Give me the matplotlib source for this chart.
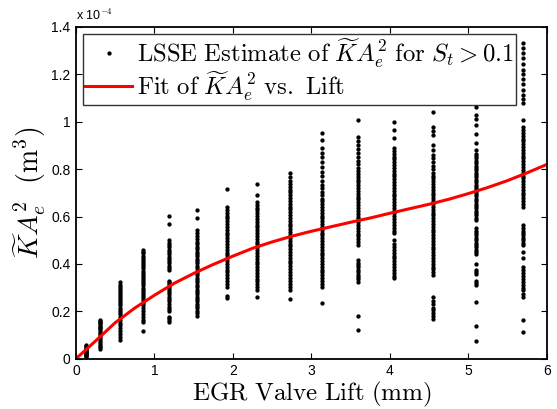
import matplotlib
matplotlib.use("Agg")
import matplotlib.pyplot as plt

plt.rcParams['mathtext.fontset'] = 'cm'
plt.rcParams['font.family'] = ['Liberation Sans', 'DejaVu Sans']

# valve lift settings (mm) where the LSSE estimates were taken
lift_levels = [0.13, 0.31, 0.565, 0.86, 1.19, 1.545, 1.93, 2.31,
               2.73, 3.14, 3.59, 4.05, 4.55, 5.09, 5.69]

# LSSE estimates of K*Ae^2, in units of 1e-4 m^3, one list per lift level
est_0 = [0.008, 0.012, 0.015, 0.018, 0.021, 0.024, 0.027, 0.030, 0.034,
         0.038, 0.042, 0.046, 0.050, 0.055, 0.058]
est_1 = [0.041, 0.048, 0.055, 0.062, 0.072, 0.080, 0.088, 0.095, 0.103,
         0.110, 0.118, 0.124, 0.130, 0.135, 0.140, 0.145, 0.150, 0.155,
         0.160, 0.165]
est_2 = [0.079, 0.092, 0.105, 0.118, 0.130, 0.142, 0.152, 0.163, 0.175,
         0.188, 0.198, 0.207, 0.216, 0.226, 0.236, 0.245, 0.254, 0.262,
         0.270, 0.278, 0.286, 0.294, 0.302, 0.310, 0.325]
est_3 = [0.117, 0.155, 0.165, 0.176, 0.187, 0.200, 0.213, 0.225, 0.236,
         0.246, 0.256, 0.265, 0.274, 0.283, 0.292, 0.300, 0.309, 0.318,
         0.327, 0.336, 0.345, 0.354, 0.363, 0.372, 0.381, 0.390, 0.399,
         0.408, 0.417, 0.426, 0.435, 0.444, 0.452, 0.460]
est_4 = [0.156, 0.163, 0.170, 0.177, 0.200, 0.210, 0.220, 0.232, 0.243,
         0.252, 0.262, 0.271, 0.280, 0.290, 0.298, 0.306, 0.314, 0.322,
         0.330, 0.375, 0.384, 0.393, 0.402, 0.411, 0.420, 0.430, 0.440,
         0.450, 0.460, 0.470, 0.480, 0.490, 0.500, 0.568, 0.602]
est_5 = [0.180, 0.192, 0.202, 0.212, 0.222, 0.232, 0.242, 0.252, 0.262,
         0.272, 0.282, 0.292, 0.302, 0.312, 0.322, 0.332, 0.342, 0.352,
         0.362, 0.372, 0.382, 0.392, 0.402, 0.412, 0.422, 0.432, 0.442,
         0.452, 0.462, 0.472, 0.482, 0.492, 0.505, 0.518, 0.530, 0.543,
         0.595, 0.627]
est_6 = [0.258, 0.264, 0.304, 0.316, 0.328, 0.340, 0.352, 0.364, 0.376,
         0.388, 0.400, 0.412, 0.424, 0.436, 0.448, 0.460, 0.472, 0.484,
         0.496, 0.508, 0.520, 0.532, 0.544, 0.556, 0.568, 0.580, 0.592,
         0.604, 0.616, 0.628, 0.641, 0.715]
est_7 = [0.262, 0.290, 0.302, 0.314, 0.326, 0.338, 0.350, 0.362, 0.374,
         0.386, 0.398, 0.410, 0.422, 0.434, 0.446, 0.458, 0.470, 0.482,
         0.494, 0.506, 0.518, 0.530, 0.542, 0.554, 0.566, 0.578, 0.590,
         0.602, 0.614, 0.626, 0.638, 0.650, 0.662, 0.690, 0.736]
est_8 = [0.252, 0.290, 0.302, 0.314, 0.330, 0.342, 0.354, 0.366, 0.378,
         0.390, 0.402, 0.414, 0.426, 0.438, 0.450, 0.462, 0.474, 0.486,
         0.498, 0.510, 0.522, 0.534, 0.546, 0.558, 0.570, 0.582, 0.594,
         0.606, 0.618, 0.630, 0.642, 0.654, 0.666, 0.678, 0.690, 0.702,
         0.714, 0.726, 0.738, 0.750, 0.765, 0.785]
est_9 = [0.234, 0.304, 0.316, 0.328, 0.340, 0.352, 0.364, 0.376, 0.388,
         0.400, 0.412, 0.424, 0.436, 0.448, 0.460, 0.472, 0.484, 0.496,
         0.508, 0.520, 0.532, 0.544, 0.556, 0.568, 0.580, 0.592, 0.604,
         0.616, 0.628, 0.640, 0.652, 0.664, 0.676, 0.690, 0.705, 0.720,
         0.735, 0.750, 0.770, 0.790, 0.810, 0.830, 0.850, 0.870, 0.888,
         0.923, 0.951]
est_10 = [0.121, 0.181, 0.325, 0.335, 0.345, 0.355, 0.365, 0.375, 0.385,
          0.395, 0.405, 0.416, 0.480, 0.492, 0.504, 0.516, 0.528, 0.540,
          0.552, 0.564, 0.576, 0.588, 0.600, 0.612, 0.624, 0.636, 0.648,
          0.660, 0.672, 0.684, 0.696, 0.708, 0.720, 0.732, 0.744, 0.756,
          0.768, 0.780, 0.792, 0.806, 0.820, 0.836, 0.852, 0.868, 0.884,
          0.900, 0.918, 0.937, 1.007]
est_11 = [0.339, 0.351, 0.363, 0.375, 0.387, 0.399, 0.411, 0.423, 0.435,
          0.447, 0.459, 0.471, 0.483, 0.500, 0.529, 0.541, 0.553, 0.565,
          0.577, 0.589, 0.601, 0.613, 0.625, 0.637, 0.649, 0.661, 0.673,
          0.685, 0.697, 0.709, 0.721, 0.733, 0.745, 0.757, 0.769, 0.781,
          0.793, 0.805, 0.817, 0.829, 0.841, 0.853, 0.865, 0.877, 0.888,
          0.930, 0.965, 0.997]
est_12 = [0.168, 0.180, 0.192, 0.204, 0.216, 0.230, 0.245, 0.262, 0.353,
          0.365, 0.377, 0.389, 0.401, 0.413, 0.425, 0.437, 0.449, 0.461,
          0.473, 0.485, 0.497, 0.509, 0.521, 0.533, 0.545, 0.557, 0.569,
          0.581, 0.593, 0.605, 0.617, 0.629, 0.641, 0.653, 0.665, 0.677,
          0.689, 0.701, 0.713, 0.725, 0.737, 0.749, 0.761, 0.773, 0.785,
          0.800, 0.815, 0.830, 0.845, 0.860, 0.880, 0.900, 0.944, 0.960,
          0.979, 1.042]
est_13 = [0.075, 0.139, 0.240, 0.312, 0.320, 0.330, 0.356, 0.366, 0.376,
          0.400, 0.440, 0.450, 0.460, 0.470, 0.480, 0.490, 0.500, 0.510,
          0.520, 0.530, 0.540, 0.550, 0.585, 0.595, 0.605, 0.615, 0.625,
          0.635, 0.645, 0.655, 0.665, 0.675, 0.685, 0.695, 0.705, 0.715,
          0.725, 0.735, 0.745, 0.755, 0.765, 0.775, 0.785, 0.795, 0.805,
          0.815, 0.825, 0.835, 0.845, 0.855, 0.865, 0.880, 0.910, 0.950,
          0.985, 1.010, 1.030, 1.061]
est_14 = [0.114, 0.163, 0.262, 0.275, 0.288, 0.300, 0.312, 0.325, 0.338,
          0.350, 0.362, 0.375, 0.388, 0.425, 0.450, 0.480, 0.490, 0.500,
          0.510, 0.520, 0.530, 0.540, 0.550, 0.564, 0.641, 0.653, 0.665,
          0.677, 0.689, 0.701, 0.713, 0.725, 0.737, 0.749, 0.761, 0.773,
          0.785, 0.797, 0.809, 0.821, 0.833, 0.845, 0.857, 0.869, 0.881,
          0.893, 0.905, 0.917, 0.929, 0.941, 0.953, 0.965, 0.979, 1.007,
          1.078, 1.095, 1.115, 1.135, 1.160, 1.180, 1.200, 1.220, 1.245,
          1.270, 1.290, 1.310, 1.331]
estimates = [est_0, est_1, est_2, est_3, est_4, est_5, est_6, est_7,
             est_8, est_9, est_10, est_11, est_12, est_13, est_14]

# fitted K*Ae^2 vs. lift curve (1e-4 m^3)
fit_lift = [0.0, 0.25, 0.5, 0.75, 1.0, 1.25, 1.5, 1.75, 2.0, 2.25, 2.5,
            2.75, 3.0, 3.25, 3.5, 3.75, 4.0, 4.25, 4.5, 4.75, 5.0, 5.25,
            5.5, 5.75, 6.0]
fit_ka2 = [0.0, 0.075, 0.152, 0.214, 0.268, 0.318, 0.360, 0.398, 0.433,
           0.466, 0.493, 0.517, 0.538, 0.557, 0.576, 0.594, 0.614, 0.633,
           0.652, 0.673, 0.697, 0.723, 0.752, 0.785, 0.820]

fig = plt.figure(figsize=(5.57, 4.09), dpi=100)
ax = fig.add_axes([0.1364, 0.123, 0.8456, 0.811])

first = True
for lift, vals in zip(lift_levels, estimates):
    ax.plot([lift] * len(vals), vals, linestyle='none', marker='o',
            markersize=3.1, markeredgewidth=0, color='black',
            label=r'$\mathrm{LSSE\ Estimate\ of\ }\widetilde{K}A_e^2\mathrm{\ for\ }S_t > 0.1$' if first else None)
    first = False

ax.plot(fit_lift, fit_ka2, color='red', linewidth=2.2,
        label=r'$\mathrm{Fit\ of\ }\widetilde{K}A_e^2\mathrm{\ vs.\ Lift}$')

ax.set_xlim(0, 6)
ax.set_ylim(0, 1.4)
ax.set_xticks([0, 1, 2, 3, 4, 5, 6])
ax.set_yticks([0, 0.2, 0.4, 0.6, 0.8, 1.0, 1.2, 1.4])
ax.set_yticklabels(['0', '0.2', '0.4', '0.6', '0.8', '1', '1.2', '1.4'])
ax.tick_params(direction='in', top=True, right=True, labelsize=10,
               length=4, width=0.8, pad=4)
for sp in ax.spines.values():
    sp.set_linewidth(1.3)

ax.text(0.0, 1.012, r'x 10$^{-4}$', transform=ax.transAxes, fontsize=9,
        ha='left', va='bottom')

ax.set_xlabel(r'$\mathrm{EGR\ Valve\ Lift\ (mm)}$', fontsize=18, labelpad=1)
ax.set_ylabel(r'$\widetilde{K}A_e^2\ \ (\mathrm{m}^3)$', fontsize=20, labelpad=2)

leg = ax.legend(loc='upper left', fontsize=17.8, frameon=True, fancybox=False,
                edgecolor='black', borderpad=0.08, labelspacing=-0.02,
                handlelength=1.9, handletextpad=0.2, borderaxespad=0.3)
leg.get_frame().set_linewidth(1.0)

fig.savefig('out.png', dpi=100)
